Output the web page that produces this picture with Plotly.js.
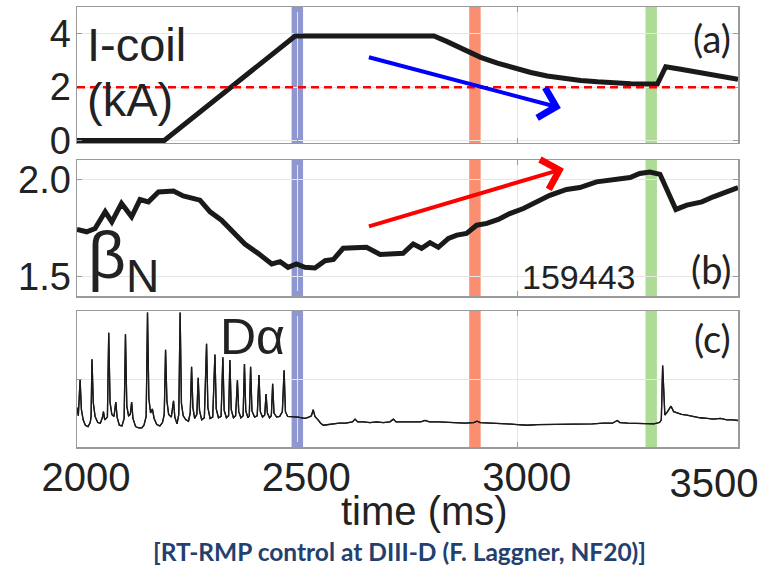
<!DOCTYPE html>
<html><head><meta charset="utf-8">
<script src="https://cdn.plot.ly/plotly-3.0.1.min.js"></script>
<style>html,body{margin:0;padding:0;background:#fff}#chart{width:769px;height:569px}</style>
</head><body><div id="chart"></div>
<script>
// ---- data ----
const xTicks = [2000, 2500, 3000, 3500];
const xTickText = ['2000', '2500', '3000', '3500'];
const iCoilTicks = [0, 2, 4];
const iCoilTickText = ['0', '2', '4'];
const betaTicks = [1.5, 2.0];
const betaTickText = ['1.5', '2.0'];

const iCoilTime = [2000, 2198, 2495, 2810, 2840, 2877, 2916, 2954, 2992, 3030, 3067, 3105, 3143, 3181, 3219, 3257, 3317, 3336, 3370, 3446, 3500];
const iCoilKA   = [0, 0, 3.92, 3.92, 3.71, 3.40, 3.12, 2.90, 2.71, 2.55, 2.42, 2.32, 2.25, 2.20, 2.16, 2.13, 2.12, 2.77, 2.67, 2.46, 2.30];

const betaTime = [2000, 2022, 2041, 2064, 2079, 2101, 2124, 2143, 2162, 2185, 2219, 2241, 2279, 2302, 2328, 2355, 2381, 2411, 2442, 2461, 2479, 2498, 2517, 2540, 2563, 2582, 2604, 2657, 2688, 2740, 2763, 2782, 2801, 2820, 2843, 2862, 2884, 2907, 2930, 2956, 2982, 3013, 3043, 3073, 3111, 3141, 3179, 3217, 3255, 3277, 3300, 3323, 3359, 3384, 3418, 3444, 3467, 3500];
const betaN    = [1.743, 1.731, 1.748, 1.834, 1.782, 1.877, 1.808, 1.897, 1.885, 1.936, 1.941, 1.916, 1.894, 1.834, 1.791, 1.731, 1.668, 1.620, 1.565, 1.577, 1.548, 1.565, 1.548, 1.545, 1.582, 1.589, 1.646, 1.651, 1.614, 1.620, 1.668, 1.646, 1.675, 1.651, 1.697, 1.714, 1.723, 1.765, 1.774, 1.795, 1.825, 1.851, 1.885, 1.919, 1.949, 1.959, 1.988, 2.000, 2.010, 2.031, 2.039, 2.027, 1.846, 1.868, 1.885, 1.911, 1.931, 1.959];

const dAlphaTime = [2000, 2003, 2007, 2010, 2014, 2019, 2025, 2030, 2032, 2034, 2037, 2041, 2047, 2053, 2058, 2060, 2063, 2069, 2072, 2075, 2079, 2084, 2088, 2091, 2096, 2102, 2107, 2110, 2113, 2117, 2121, 2124, 2127, 2133, 2140, 2147, 2152, 2157, 2160, 2163, 2167, 2171, 2175, 2181, 2188, 2194, 2198, 2201, 2204, 2208, 2214, 2219, 2222, 2227, 2231, 2234, 2237, 2241, 2247, 2253, 2257, 2260, 2263, 2267, 2272, 2275, 2278, 2283, 2289, 2294, 2297, 2302, 2308, 2313, 2316, 2321, 2327, 2331, 2334, 2339, 2344, 2347, 2350, 2355, 2360, 2364, 2367, 2372, 2377, 2380, 2383, 2388, 2391, 2394, 2397, 2403, 2409, 2413, 2416, 2421, 2426, 2429, 2432, 2437, 2441, 2444, 2447, 2453, 2460, 2466, 2470, 2473, 2478, 2486, 2494, 2502, 2510, 2518, 2526, 2532, 2536, 2540, 2547, 2553, 2559, 2570, 2582, 2595, 2610, 2625, 2631, 2637, 2650, 2665, 2680, 2695, 2710, 2718, 2724, 2740, 2760, 2780, 2790, 2800, 2820, 2840, 2860, 2880, 2900, 2908, 2915, 2935, 2955, 2975, 3000, 3022, 3045, 3070, 3095, 3120, 3145, 3170, 3195, 3215, 3226, 3232, 3250, 3270, 3290, 3309, 3322, 3326, 3329, 3332, 3334, 3340, 3348, 3354, 3361, 3372, 3384, 3398, 3414, 3430, 3444, 3460, 3475, 3488, 3500];
const dAlpha     = [0.58, 0.46, 0.99, 0.55, 0.40, 0.32, 0.30, 0.36, 0.45, 1.29, 0.65, 0.45, 0.36, 0.35, 0.44, 0.52, 0.40, 0.44, 1.68, 0.66, 0.48, 0.45, 0.66, 0.44, 0.32, 0.31, 0.42, 1.66, 0.60, 0.46, 0.48, 0.66, 0.42, 0.30, 0.28, 0.28, 0.32, 0.45, 1.98, 0.72, 0.50, 0.56, 0.42, 0.33, 0.31, 0.36, 0.48, 1.43, 0.68, 0.48, 0.44, 0.68, 0.44, 0.34, 0.48, 1.98, 0.64, 0.46, 0.40, 0.38, 0.50, 1.18, 0.58, 0.42, 0.48, 1.02, 0.54, 0.40, 0.43, 1.52, 0.58, 0.42, 0.44, 1.36, 0.56, 0.43, 0.45, 1.32, 0.54, 0.43, 0.46, 1.28, 0.55, 0.43, 0.46, 0.98, 0.52, 0.43, 0.46, 1.22, 0.53, 0.43, 0.46, 1.18, 0.53, 0.44, 0.46, 1.06, 0.52, 0.44, 0.47, 0.78, 0.50, 0.43, 0.46, 0.93, 0.50, 0.44, 0.45, 0.52, 1.13, 0.52, 0.45, 0.45, 0.44, 0.44, 0.43, 0.42, 0.44, 0.46, 0.55, 0.45, 0.40, 0.35, 0.32, 0.33, 0.34, 0.35, 0.35, 0.37, 0.41, 0.37, 0.37, 0.36, 0.37, 0.36, 0.37, 0.41, 0.37, 0.37, 0.36, 0.37, 0.39, 0.37, 0.37, 0.36, 0.36, 0.35, 0.36, 0.38, 0.36, 0.35, 0.34, 0.34, 0.33, 0.32, 0.33, 0.33, 0.34, 0.34, 0.34, 0.34, 0.35, 0.35, 0.39, 0.36, 0.35, 0.35, 0.34, 0.34, 0.36, 0.40, 1.20, 0.70, 0.47, 0.52, 0.60, 0.52, 0.50, 0.48, 0.47, 0.45, 0.43, 0.42, 0.41, 0.42, 0.40, 0.40, 0.39];

const bandTimes  = [2500, 2903, 3303];
const bandColors = ['rgb(143,151,208)', 'rgb(250,142,112)', 'rgb(174,219,150)'];
const thresholdKA = 2;
const blueArrowFrom = [2659, 3.14], blueArrowTo = [3098, 1.22];
const redArrowFrom  = [2659, 1.757], redArrowTo = [3105, 2.056];
const shotNumber = '159443';

// ---- styles ----
const FONT = '"Liberation Sans", Arial, sans-serif';
const TXT = '#222';
const axisBase = {
  showline: true, linecolor: '#9a9a9a', linewidth: 1.5, mirror: 'ticks',
  ticks: 'inside', ticklen: 5, tickcolor: '#9a9a9a', tickwidth: 1,
  showgrid: true, gridcolor: '#e6e6e6', gridwidth: 1, zeroline: false,
  tickfont: {family: FONT, size: 38, color: TXT}
};
const xBase = Object.assign({}, axisBase, {range: [2000, 3500], tickvals: xTicks, ticktext: xTickText});
const xLabelFont = {family: FONT, size: 40, color: TXT};

const traces = [
  {x: iCoilTime, y: iCoilKA, xaxis: 'x', yaxis: 'y', mode: 'lines', line: {color: '#1a1a1a', width: 5}, hoverinfo: 'skip'},
  {x: betaTime, y: betaN, xaxis: 'x2', yaxis: 'y2', mode: 'lines', line: {color: '#1a1a1a', width: 5}, hoverinfo: 'skip'},
  {x: dAlphaTime, y: dAlpha, xaxis: 'x3', yaxis: 'y3', mode: 'lines', line: {color: '#1a1a1a', width: 1.3}, hoverinfo: 'skip'},
  // same D-alpha data on the overlay axis that carries the last tick label (drawn identically, underneath)
  {x: dAlphaTime, y: dAlpha, xaxis: 'x4', yaxis: 'y3', mode: 'lines', line: {color: '#1a1a1a', width: 1.3}, hoverinfo: 'skip'}
];

const shapes = [];
[['x', 'y'], ['x2', 'y2'], ['x3', 'y3']].forEach(([xa, ya]) => {
  bandTimes.forEach((t, i) => shapes.push({
    type: 'rect', xref: xa, yref: ya + ' domain', x0: t - 13, x1: t + 13, y0: 0, y1: 1,
    fillcolor: bandColors[i], line: {width: 0}, layer: 'below'
  }));
});
shapes.push({type: 'line', xref: 'x domain', yref: 'y', x0: 0, x1: 1, y0: thresholdKA, y1: thresholdKA,
  line: {color: '#ff0000', width: 2.5, dash: '8px,5px'}, layer: 'above'});

const txt = (text, x, y, size, xanchor, extra) => Object.assign({
  text: text, x: x, y: y, xref: 'paper', yref: 'paper', xanchor: xanchor, yanchor: 'middle',
  showarrow: false, font: {family: FONT, size: size, color: TXT}
}, extra || {});
const latoFont = {family: 'Lato, sans-serif', size: 38, color: TXT};

const annotations = [
  {x: blueArrowTo[0], y: blueArrowTo[1], ax: blueArrowFrom[0], ay: blueArrowFrom[1],
   xref: 'x', yref: 'y', axref: 'x', ayref: 'y', text: '', showarrow: true,
   arrowhead: 4, arrowsize: 1.5, arrowwidth: 4, arrowcolor: '#0000ff', standoff: 0},
  {x: redArrowTo[0], y: redArrowTo[1], ax: redArrowFrom[0], ay: redArrowFrom[1],
   xref: 'x2', yref: 'y2', axref: 'x2', ayref: 'y2', text: '', showarrow: true,
   arrowhead: 4, arrowsize: 1.5, arrowwidth: 4, arrowcolor: '#ff0000', standoff: 0},
  txt('I-coil', 0.012, 0.915, 47, 'left'),
  txt('(kA)', 0.012, 0.79, 47, 'left'),
  txt('(a)', 0.992, 0.93, 38, 'right', {font: latoFont}),
  txt('β<sub>N</sub>', 0.014, 0.425, 66, 'left'),
  txt(shotNumber, 0.758, 0.386, 34, 'center'),
  txt('(b)', 0.992, 0.405, 38, 'right', {font: latoFont}),
  txt('Dα', 0.214, 0.25, 50, 'left'),
  txt('(c)', 0.992, 0.248, 38, 'right', {font: latoFont}),
  txt('time (ms)', 0.525, -0.145, 40, 'center'),
  txt('[RT-RMP control at DIII-D (F. Laggner, NF20)]', 0.488, -0.238, 24.5, 'center',
      {font: {family: 'Lato, sans-serif', size: 24.5, color: '#23406e', weight: 'bold'}})
];

const layout = {
  width: 769, height: 569,
  margin: {l: 77, r: 31, t: 7, b: 122},
  paper_bgcolor: '#fff', plot_bgcolor: '#fff',
  showlegend: false,
  xaxis:  Object.assign({}, xBase, {anchor: 'y', showticklabels: false}),
  xaxis2: Object.assign({}, xBase, {anchor: 'y2', showticklabels: false}),
  xaxis3: Object.assign({}, xBase, {anchor: 'y3', tickvals: xTicks.slice(0, 3), ticktext: xTickText.slice(0, 3),
           ticklabelshift: 9, ticklabelstandoff: -6, ticklabeloverflow: 'allow', tickfont: xLabelFont}),
  xaxis4: {overlaying: 'x3', anchor: 'y3', side: 'bottom', range: [2000, 3500],
           tickvals: xTicks.slice(3), ticktext: xTickText.slice(3), ticks: '', showline: false, showgrid: false, zeroline: false,
           ticklabelshift: -24, ticklabelstandoff: 9, ticklabeloverflow: 'allow', tickfont: xLabelFont},
  yaxis:  Object.assign({}, axisBase, {domain: [0.691, 1], anchor: 'x', range: [-0.094, 5.01], tickvals: iCoilTicks,
           ticktext: iCoilTickText, ticklabelstandoff: -3}),
  yaxis2: Object.assign({}, axisBase, {domain: [0.343, 0.652], anchor: 'x2', range: [1.4, 2.1], tickvals: betaTicks,
           ticktext: betaTickText, ticklabelstandoff: -3}),
  yaxis3: Object.assign({}, axisBase, {domain: [0, 0.309], anchor: 'x3', range: [0, 2], tickvals: [1], showticklabels: false}),
  shapes: shapes,
  annotations: annotations
};

Plotly.newPlot('chart', traces, layout, {staticPlot: true, displayModeBar: false});
</script>
</body></html>
